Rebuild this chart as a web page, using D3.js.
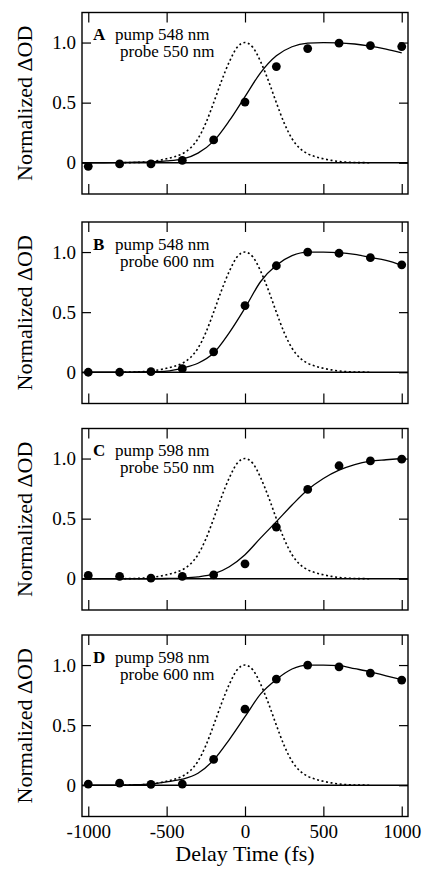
<!DOCTYPE html>
<html>
<head>
<meta charset="utf-8">
<script src="https://cdn.jsdelivr.net/npm/d3@7"></script>
<style>
  body { margin: 0; background: #fff; }
  svg { display: block; }
  text { font-family: 'Liberation Serif', 'Times New Roman', serif; fill: #000; }
  .tick text { font-size: 19px; }
  .tick line { stroke: #000; stroke-width: 1.2; }
</style>
</head>
<body>
<div id="chart"></div>
<script>
// delay times of the measured points (fs)
const delays = [-1000, -800, -600, -400, -200, 0, 200, 400, 600, 800, 1000]

const panelLetters = ["A", "B", "C", "D"]
const pumpLabels = ["pump 548 nm", "pump 548 nm", "pump 598 nm", "pump 598 nm"]
const probeLabels = ["probe 550 nm", "probe 600 nm", "probe 550 nm", "probe 600 nm"]

// measured normalized dOD
const pointsA = [-0.03, -0.01, -0.01, 0.02, 0.19, 0.505, 0.80, 0.95, 0.995, 0.975, 0.967]
const pointsB = [0.0, 0.0, 0.005, 0.03, 0.17, 0.555, 0.886, 1.0, 0.99, 0.953, 0.894]
const pointsC = [0.028, 0.02, 0.005, 0.02, 0.033, 0.124, 0.43, 0.743, 0.94, 0.98, 0.995]
const pointsD = [0.01, 0.017, 0.008, 0.01, 0.215, 0.633, 0.883, 1.0, 0.985, 0.933, 0.875]

// fitted curves, read every 100 fs
const fitTimes = [-1000, -900, -800, -700, -600, -500, -400, -300, -200, -100, 0,
  100, 200, 300, 400, 500, 600, 700, 800, 900, 1000]
const fitA = [0, 0, 0.002, 0.004, 0.008, 0.015, 0.03, 0.08, 0.18, 0.35, 0.55,
  0.75, 0.89, 0.965, 0.995, 1.0, 0.998, 0.988, 0.97, 0.945, 0.915]
const fitB = [0, 0, 0, 0.002, 0.005, 0.01, 0.035, 0.075, 0.16, 0.33, 0.535,
  0.755, 0.89, 0.97, 1.0, 1.0, 0.995, 0.98, 0.955, 0.93, 0.89]
const fitC = [0, 0, 0, 0, 0, 0.002, 0.006, 0.016, 0.04, 0.1, 0.2,
  0.34, 0.475, 0.613, 0.74, 0.834, 0.903, 0.95, 0.978, 0.99, 1.0]
const fitD = [0, 0, 0, 0.004, 0.012, 0.028, 0.05, 0.1, 0.21, 0.38, 0.57,
  0.76, 0.88, 0.967, 1.0, 1.0, 0.995, 0.97, 0.944, 0.91, 0.878]

// pump-probe cross correlation (dotted), read every 50 fs
const pulseTimes = [-800, -750, -700, -650, -600, -550, -500, -450, -400, -350, -300, -250, -200, -150, -100, -50, 0,
  50, 100, 150, 200, 250, 300, 350, 400, 450, 500, 550, 600, 650, 700, 750, 800]
const pulseValues = [0, 0.001, 0.002, 0.005, 0.011, 0.02, 0.033, 0.05, 0.075, 0.12, 0.2, 0.33, 0.5, 0.68, 0.84, 0.96, 1.0,
  0.96, 0.84, 0.68, 0.5, 0.33, 0.2, 0.12, 0.075, 0.05, 0.033, 0.02, 0.011, 0.005, 0.002, 0.001, 0]

const xTicks = [-1000, -500, 0, 500, 1000]
const yTicks = [0, 0.5, 1.0]
const yTickLabels = ["0", "0.5", "1.0"]

const allPoints = [pointsA, pointsB, pointsC, pointsD]
const allFits = [fitA, fitB, fitC, fitD]

class Panel {
  constructor(_svg, _top, _index, _showX) {
    this.svg = _svg
    this.top = _top
    this.index = _index
    this.showX = _showX

    this.initVis()
  }

  initVis() {
    const vis = this

    vis.LEFT = 82
    vis.WIDTH = 326
    vis.HEIGHT = 181.5

    vis.g = vis.svg.append("g")
      .attr("transform", `translate(${vis.LEFT}, ${vis.top})`)

    vis.x = d3.scaleLinear().domain([-1040, 1040]).range([0, vis.WIDTH])
    vis.y = d3.scaleLinear().domain([-0.26, 1.25]).range([vis.HEIGHT, 0])

    // inward ticks on all four sides
    const left = d3.axisLeft(vis.y).tickValues(yTicks).tickSize(-9).tickPadding(6)
      .tickFormat((d, i) => yTickLabels[i])
    const right = d3.axisRight(vis.y).tickValues(yTicks).tickSize(-9).tickFormat("")
    const top = d3.axisTop(vis.x).tickValues(xTicks).tickSize(-10).tickFormat("")
    const bottom = d3.axisBottom(vis.x).tickValues(xTicks).tickSize(-10).tickPadding(8)
      .tickFormat(d => vis.showX ? String(d) : "")

    vis.g.append("g").call(left)
    vis.g.append("g").attr("transform", `translate(${vis.WIDTH}, 0)`).call(right)
    vis.g.append("g").call(top)
    vis.g.append("g").attr("transform", `translate(0, ${vis.HEIGHT})`).call(bottom)
    vis.g.selectAll(".domain").remove()

    vis.g.append("rect")
      .attr("width", vis.WIDTH)
      .attr("height", vis.HEIGHT)
      .attr("fill", "none")
      .attr("stroke", "#000")
      .attr("stroke-width", 1.4)

    // zero line
    vis.g.append("line")
      .attr("x1", 0)
      .attr("x2", vis.WIDTH)
      .attr("y1", vis.y(0))
      .attr("y2", vis.y(0))
      .attr("stroke", "#000")
      .attr("stroke-width", 1.4)

    const line = d3.line()
      .x(d => vis.x(d[0]))
      .y(d => vis.y(d[1]))
      .curve(d3.curveMonotoneX)

    vis.g.append("path")
      .datum(pulseTimes.map((t, i) => [t, pulseValues[i]]))
      .attr("d", line)
      .attr("fill", "none")
      .attr("stroke", "#000")
      .attr("stroke-width", 1.6)
      .attr("stroke-dasharray", "2,2.6")

    vis.g.append("path")
      .datum(fitTimes.map((t, i) => [t, allFits[vis.index][i]]))
      .attr("d", line)
      .attr("fill", "none")
      .attr("stroke", "#000")
      .attr("stroke-width", 1.3)

    vis.g.selectAll(".dot")
      .data(delays.map((t, i) => [t, allPoints[vis.index][i]]))
      .enter()
      .append("circle")
      .attr("class", "dot")
      .attr("cx", d => vis.x(d[0]))
      .attr("cy", d => vis.y(d[1]))
      .attr("r", 4.4)
      .attr("fill", "#000")

    // panel annotation
    const label = vis.g.append("text")
      .attr("font-size", "17px")
      .attr("y", 27.5)
    label.append("tspan")
      .attr("x", 11)
      .attr("font-weight", "bold")
      .text(panelLetters[vis.index])
    label.append("tspan")
      .attr("x", 33)
      .text(pumpLabels[vis.index])

    vis.g.append("text")
      .attr("font-size", "17px")
      .attr("x", 38)
      .attr("y", 44.5)
      .text(probeLabels[vis.index])

    vis.svg.append("text")
      .attr("font-size", "22px")
      .attr("text-anchor", "middle")
      .attr("transform", `translate(32, ${vis.top + vis.HEIGHT / 2}) rotate(-90)`)
      .text("Normalized ΔOD")
  }
}

const svg = d3.select("#chart")
  .append("svg")
  .attr("width", 422)
  .attr("height", 874)

const panelTops = [12.5, 222, 428.5, 635]
panelTops.forEach((top, i) => new Panel(svg, top, i, i === 3))

svg.append("text")
  .attr("font-size", "22px")
  .attr("text-anchor", "middle")
  .attr("x", 245)
  .attr("y", 861)
  .text("Delay Time (fs)")
</script>
</body>
</html>
